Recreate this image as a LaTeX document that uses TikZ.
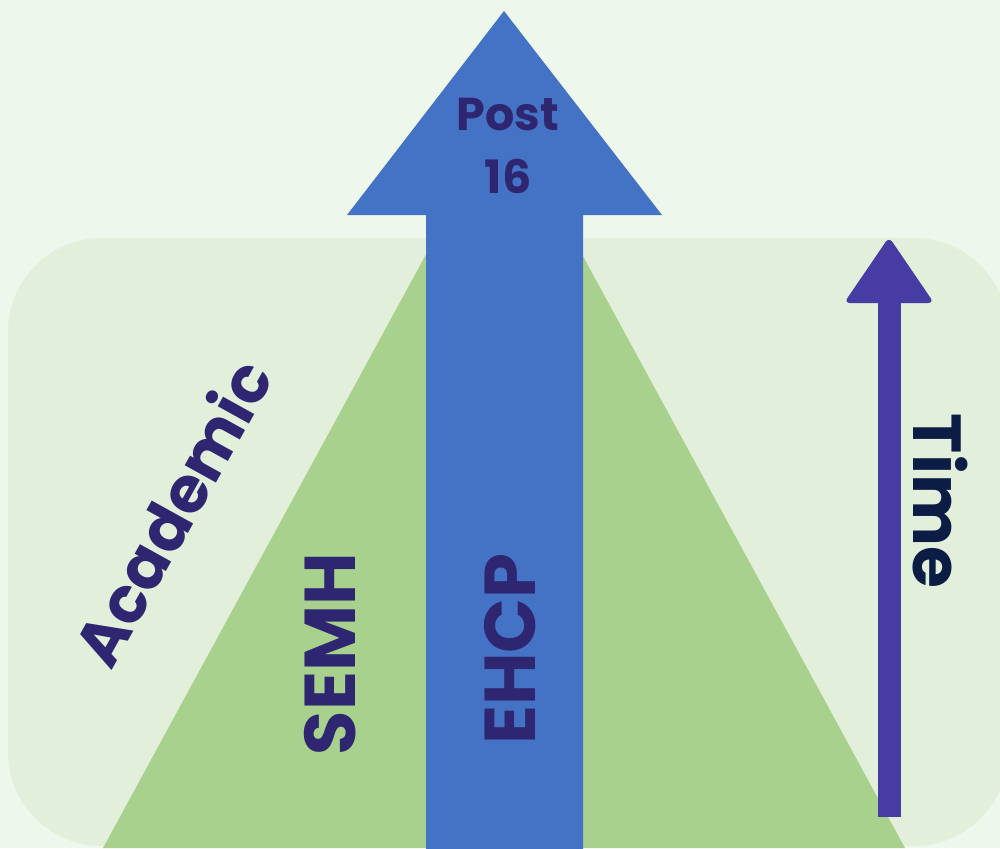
\documentclass[tikz,border=0pt]{standalone}
\usepackage{fontspec}
\setmainfont{Poppins}
\usetikzlibrary{arrows.meta, positioning}

\definecolor{pagebg}{HTML}{EDF7EB}
\definecolor{panelbg}{HTML}{E2EFDA}
\definecolor{pyramid}{HTML}{A9D18E}
\definecolor{ehcpblue}{HTML}{4472C4}
\definecolor{timepurple}{HTML}{473CA4}
\definecolor{labelink}{HTML}{2E2670}
\definecolor{timeink}{HTML}{0B1D45}

\begin{document}
\begin{tikzpicture}[
    x=0.5pt, y=-0.5pt,
    biglabel/.style={font=\fontsize{36}{40}\selectfont\bfseries, text=labelink, inner sep=0pt},
    smalllabel/.style={font=\fontsize{23}{31.5}\selectfont\bfseries, text=labelink, align=center, inner sep=0pt}
]
\useasboundingbox (0,0) rectangle (1000,848);
\clip (0,0) rectangle (1000,848);
\fill[pagebg] (0,0) rectangle (1000,848);

% Panel behind the pyramid
\fill[panelbg, rounded corners=47pt] (8,238) rectangle (1008,846);

% Pyramid
\fill[pyramid] (103,848) -- (504,111) -- (905,848) -- cycle;

% Big arrow up the middle
\fill[ehcpblue] (426,860) -- (426,215) -- (347,215) -- (504,11)
    -- (662,215) -- (583,215) -- (583,860) -- cycle;

% Time arrow
\fill[timepurple] (878,302) rectangle (901,817);
\fill[timepurple, rounded corners=3pt] (844,303) -- (889,237) -- (934,303) -- cycle;

% Labels
\node[smalllabel] (post) at (508,146) {Post\\16};
\node[biglabel, rotate=90] (ehcp) at (510,649) {EHCP};
\node[biglabel, rotate=90] (semh) at (330,654) {SEMH};
\node[biglabel, font=\fontsize{32}{36}\selectfont\bfseries, rotate=61] (academic) at (171,512) {Academic};
\node[biglabel, font=\fontsize{34}{38}\selectfont\bfseries, rotate=-90, text=timeink] (time) at (940,501) {Time};

\end{tikzpicture}
\end{document}
